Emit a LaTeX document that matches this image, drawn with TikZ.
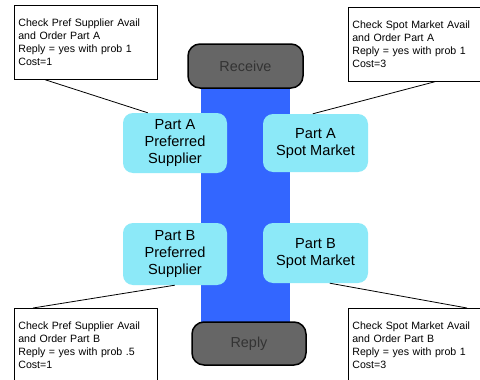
\documentclass[tikz,border=0pt]{standalone}
\usepackage{fontspec}
\setmainfont{Liberation Sans}
\definecolor{barblue}{HTML}{3366FF}
\definecolor{partcyan}{HTML}{8CE9F8}
\definecolor{termgray}{HTML}{666666}
\definecolor{termtext}{HTML}{333333}
\begin{document}
\begin{tikzpicture}[x=1pt,y=-1pt,
  note/.style={draw=black, line width=0.7pt, fill=white, minimum width=143pt, minimum height=74pt,
    text width=135pt, inner sep=4pt, align=left, font=\fontsize{10.6}{13}\selectfont},
  part/.style={fill=partcyan, rounded corners=10pt, inner sep=0pt, align=center,
    font=\fontsize{14.6}{17}\selectfont},
  term/.style={draw=black, line width=1.5pt, fill=termgray, rounded corners=12pt, inner sep=0pt,
    text=termtext, font=\fontsize{14.4}{17}\selectfont},
  conn/.style={draw=black, line width=0.8pt}]
\useasboundingbox (0,0) rectangle (480,380);
\clip (0,0) rectangle (480,380);
\fill[white] (0,0) rectangle (480,380);
% blue bar
\fill[barblue] (201,86) rectangle (290,324);
% terminals
\node[term, minimum width=115pt, minimum height=44pt] (recv) at (245.5,66) {Receive};
\node[term, minimum width=114pt, minimum height=43pt] (reply) at (249,343.5) {Reply};
% parts
\node[part, minimum width=104pt, minimum height=60pt] (pap) at (175,143) {Part A\\Preferred\\Supplier};
\node[part, minimum width=105pt, minimum height=58pt] (pas) at (315.5,143) {Part A\\Spot Market};
\node[part, minimum width=104pt, minimum height=62pt] (pbp) at (175,254) {Part B\\Preferred\\Supplier};
\node[part, minimum width=105pt, minimum height=60pt] (pbs) at (315.5,253) {Part B\\Spot Market};
% notes
\node[note, anchor=north west] (ntl) at (14,5) {Check Pref Supplier Avail\\and Order Part A\\Reply = yes with prob 1\\Cost=1};
\node[note, anchor=north west] (ntr) at (348,7) {Check Spot Market Avail\\and Order Part A\\Reply = yes with prob 1\\Cost=3};
\node[note, anchor=north west] (nbl) at (14,308) {Check Pref Supplier Avail\\and Order Part B\\Reply = yes with prob .5\\Cost=1};
\node[note, anchor=north west] (nbr) at (348,308) {Check Spot Market Avail\\and Order Part B\\Reply = yes with prob 1\\Cost=3};
% connectors
\draw[conn] ([xshift=31pt]ntl.south west) -- ([xshift=25pt]pap.north west);
\draw[conn] ([xshift=87pt]ntr.south west) -- ([xshift=50pt]pas.north west);
\draw[conn] ([xshift=19pt]nbl.north west) -- ([xshift=52pt]pbp.south west);
\draw[conn] ([xshift=119pt]nbr.north west) -- ([xshift=67pt]pbs.south west);
\end{tikzpicture}
\end{document}
